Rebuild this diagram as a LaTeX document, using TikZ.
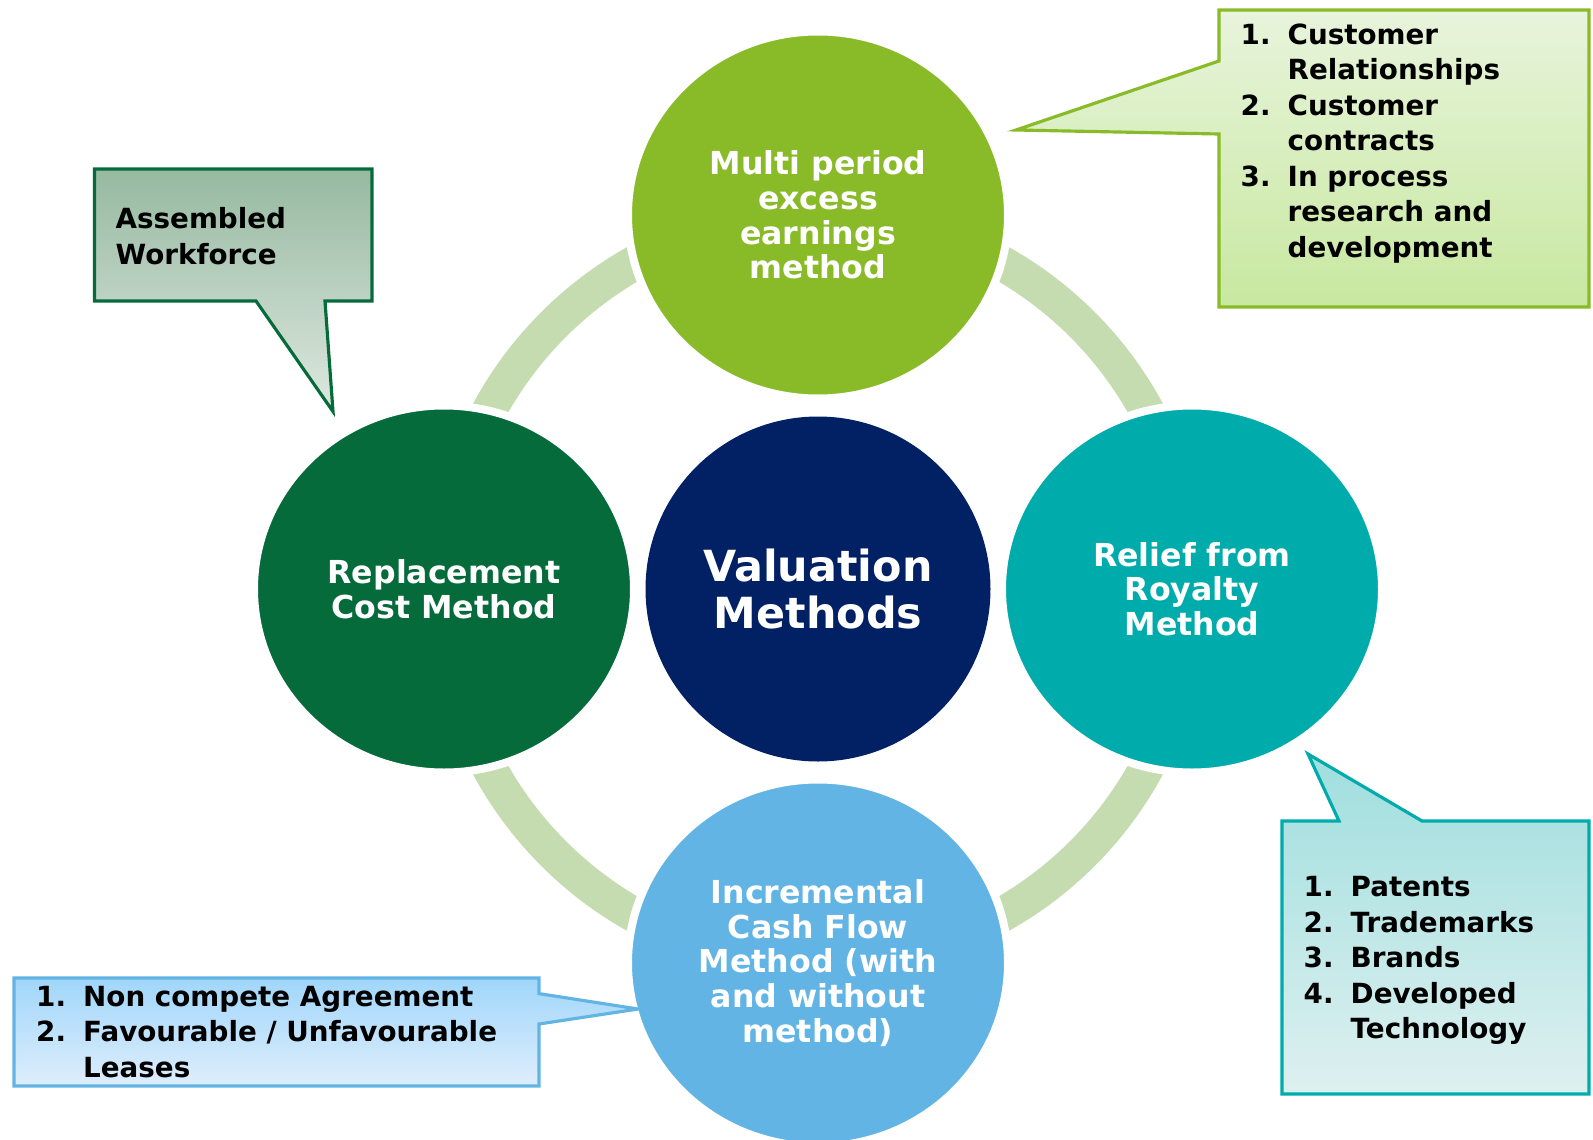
\documentclass[tikz,border=0pt]{standalone}
\usepackage{fontspec}
\setmainfont{DejaVu Sans}
\usepackage{xcolor}
\usetikzlibrary{shapes.geometric, positioning, calc}

\definecolor{ringGreen}{RGB}{197,220,176}
\definecolor{valNavy}{RGB}{2,32,100}
\definecolor{mpeemGreen}{RGB}{137,187,40}
\definecolor{replGreen}{RGB}{6,107,58}
\definecolor{reliefTeal}{RGB}{0,171,171}
\definecolor{incrBlue}{RGB}{98,180,228}

\newcommand{\listno}[1]{\makebox[0.47cm][l]{#1}}

\begin{document}
\begin{tikzpicture}[
  method/.style={ellipse, draw=white, line width=0.08cm, minimum width=3.80cm, minimum height=3.67cm,
    inner sep=0pt, text=white, align=center, font=\bfseries\fontsize{9}{9.9}\selectfont},
  listtext/.style={anchor=north west, align=left, inner sep=0pt, font=\bfseries\fontsize{7.9}{10.1}\selectfont},
  callout/.style={line width=0.9pt, line join=miter}
]
\useasboundingbox (0,0) rectangle (15.93,11.39);

% ring behind the methods
\coordinate (hub) at (8.18,5.50);
\draw[ringGreen, line width=0.35cm] (hub) circle (3.74);

% methods
\node[circle, fill=valNavy, minimum size=3.45cm, inner sep=0pt, text=white, align=center,
  font=\bfseries\fontsize{12.2}{13.3}\selectfont] (val) at (hub) {Valuation\\Methods};
\node[method, fill=mpeemGreen] (mpeem) at ($(hub)+(0,3.74)$) {Multi period\\excess\\earnings\\method};
\node[method, fill=replGreen] (repl) at ($(hub)+(-3.74,0)$) {Replacement\\Cost Method};
\node[method, fill=reliefTeal] (relief) at ($(hub)+(3.74,0)$) {Relief from\\Royalty\\Method};
\node[method, fill=incrBlue] (incr) at ($(hub)+(0,-3.74)$) {Incremental\\Cash Flow\\Method (with\\and without\\method)};

% Multi period callout
\draw[callout, draw=mpeemGreen, top color={rgb,255:red,232;green,244;blue,220}, bottom color={rgb,255:red,200;green,232;blue,160}]
  (12.19,11.29) -- (15.89,11.29) -- (15.89,8.32) -- (12.19,8.32) -- (12.19,10.05) -- (10.16,10.09) -- (12.19,10.78) -- cycle;
\node[listtext] (mpeemlist) at (12.40,11.16) {\listno{1.}Customer\\\listno{}Relationships\\\listno{2.}Customer\\\listno{}contracts\\\listno{3.}In process\\\listno{}research and\\\listno{}development};

% Replacement callout
\draw[callout, draw=replGreen, top color={rgb,255:red,150;green,185;blue,160}, bottom color={rgb,255:red,222;green,232;blue,224}]
  (0.945,9.70) -- (3.72,9.70) -- (3.72,8.38) -- (3.25,8.38) -- (3.33,7.275) -- (2.56,8.38) -- (0.945,8.38) -- cycle;
\node[listtext] (repllist) at (1.15,9.32) {Assembled\\Workforce};

% Relief callout
\draw[callout, draw=reliefTeal, top color={rgb,255:red,160;green,222;blue,222}, bottom color={rgb,255:red,222;green,240;blue,240}]
  (12.82,3.18) -- (13.39,3.18) -- (13.08,3.85) -- (14.22,3.18) -- (15.89,3.18) -- (15.89,0.45) -- (12.82,0.45) -- cycle;
\node[listtext] (relieflist) at (13.03,2.63) {\listno{1.}Patents\\\listno{2.}Trademarks\\\listno{3.}Brands\\\listno{4.}Developed\\\listno{}Technology};

% Incremental callout
\draw[callout, draw=incrBlue, top color={rgb,255:red,160;green,214;blue,250}, bottom color={rgb,255:red,222;green,238;blue,252}]
  (0.14,1.61) -- (5.39,1.61) -- (5.39,1.454) -- (6.38,1.30) -- (5.39,1.15) -- (5.39,0.53) -- (0.14,0.53) -- cycle;
\node[listtext] (incrlist) at (0.355,1.535) {\listno{1.}Non compete Agreement\\\listno{2.}Favourable / Unfavourable\\\listno{}Leases};
\end{tikzpicture}
\end{document}
